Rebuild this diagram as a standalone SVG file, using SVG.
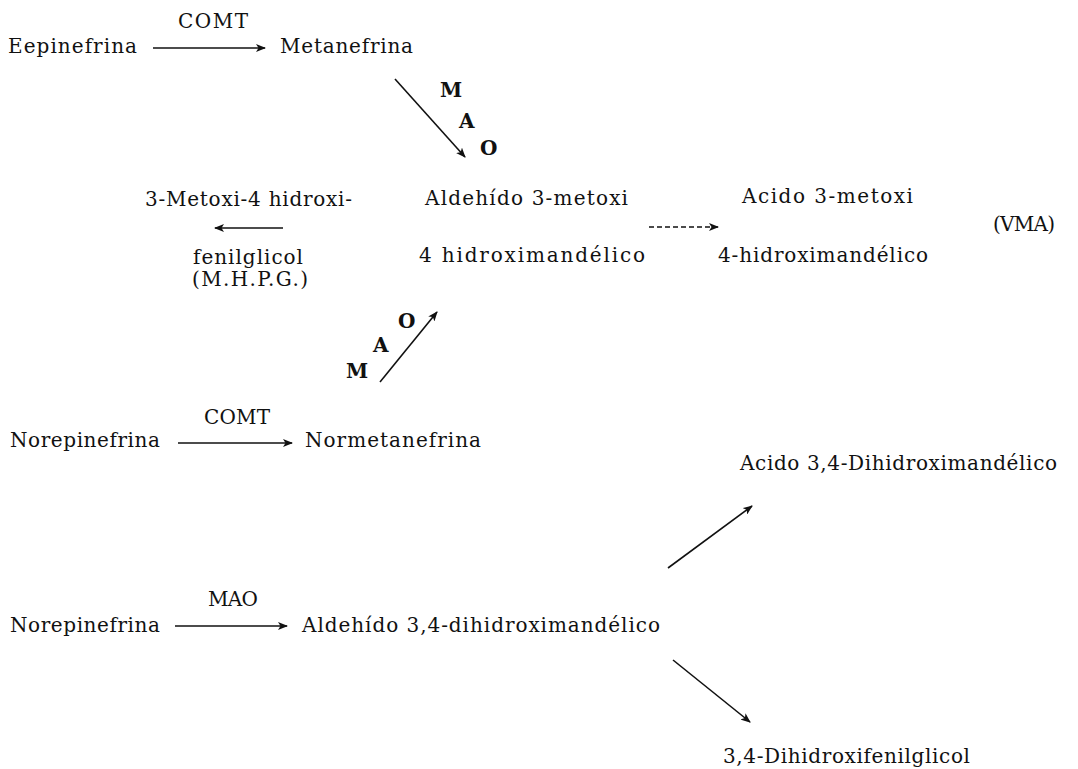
<svg xmlns="http://www.w3.org/2000/svg" width="1078" height="769" viewBox="0 0 1078 769">
<defs>
<style>
text{font-family:"DejaVu Serif","Liberation Serif",serif;font-size:20px;fill:#111}
.b{font-weight:bold;font-size:20px}
.ln{stroke:#111;stroke-width:1.6;fill:none;marker-end:url(#ah)}
.dash{stroke-dasharray:5 3}
</style>
<marker id="ah" viewBox="0 0 10 8" refX="9" refY="4" markerWidth="10" markerHeight="8" markerUnits="userSpaceOnUse" orient="auto">
<path d="M0,0 L10,4 L0,8 L2.5,4 z" fill="#111"/>
</marker>
</defs>
<rect width="1078" height="769" fill="#fff"/>
<g id="connectors">
<line class="ln" x1="153" y1="48" x2="265" y2="48"/>
<line class="ln" x1="395" y1="79" x2="465" y2="157"/>
<line class="ln" x1="283" y1="228" x2="215" y2="228"/>
<line class="ln dash" x1="649" y1="227" x2="718" y2="227"/>
<line class="ln" x1="380" y1="382" x2="437" y2="312"/>
<line class="ln" x1="178" y1="443" x2="292" y2="443"/>
<line class="ln" x1="668" y1="568" x2="752" y2="506"/>
<line class="ln" x1="175" y1="626" x2="287" y2="626"/>
<line class="ln" x1="673" y1="660" x2="750" y2="722"/>
</g>
<g id="labels">
<text x="178" y="28" textLength="70" lengthAdjust="spacing">COMT</text>
<g><text class="b" x="440" y="97">M</text><text class="b" x="459" y="128">A</text><text class="b" x="480" y="155">O</text></g>
<g><text class="b" x="398" y="328">O</text><text class="b" x="373" y="352">A</text><text class="b" x="346" y="378">M</text></g>
<text x="204" y="424" textLength="66" lengthAdjust="spacing">COMT</text>
<text x="208" y="606" textLength="50" lengthAdjust="spacing">MAO</text>
</g>
<g id="n-epinefrina"><text x="8" y="53" textLength="129" lengthAdjust="spacing">Eepinefrina</text></g>
<g id="n-metanefrina"><text x="280" y="53" textLength="133" lengthAdjust="spacing">Metanefrina</text></g>
<g id="n-mhpg"><text x="145" y="206" textLength="207" lengthAdjust="spacing">3-Metoxi-4 hidroxi-</text><text x="193" y="264" textLength="110" lengthAdjust="spacing">fenilglicol</text><text x="192" y="286" textLength="116" lengthAdjust="spacing">(M.H.P.G.)</text></g>
<g id="n-aldehido-metoxi"><text x="425" y="205" textLength="203" lengthAdjust="spacing">Aldehído 3-metoxi</text><text x="419" y="262" textLength="226" lengthAdjust="spacing">4 hidroximandélico</text></g>
<g id="n-vma"><text x="742" y="203" textLength="171" lengthAdjust="spacing">Acido 3-metoxi</text><text x="718" y="262" textLength="210" lengthAdjust="spacing">4-hidroximandélico</text><text x="993" y="231" textLength="62" lengthAdjust="spacing">(VMA)</text></g>
<g id="n-norepinefrina1"><text x="10" y="447" textLength="150" lengthAdjust="spacing">Norepinefrina</text></g>
<g id="n-normetanefrina"><text x="305" y="447" textLength="176" lengthAdjust="spacing">Normetanefrina</text></g>
<g id="n-acido-dihidroxi"><text x="740" y="470" textLength="317" lengthAdjust="spacing">Acido 3,4-Dihidroximandélico</text></g>
<g id="n-norepinefrina2"><text x="10" y="632" textLength="150" lengthAdjust="spacing">Norepinefrina</text></g>
<g id="n-aldehido-dihidroxi"><text x="302" y="632" textLength="358" lengthAdjust="spacing">Aldehído 3,4-dihidroximandélico</text></g>
<g id="n-dopeg"><text x="723" y="763" textLength="247" lengthAdjust="spacing">3,4-Dihidroxifenilglicol</text></g>
</svg>
